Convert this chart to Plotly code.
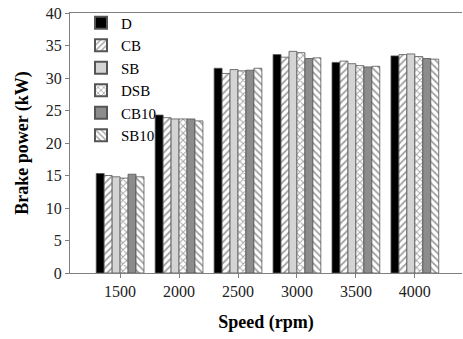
import plotly.graph_objects as go

speeds = ["1500", "2000", "2500", "3000", "3500", "4000"]
D    = [15.3, 24.3, 31.5, 33.6, 32.4, 33.4]
CB   = [15.0, 23.9, 30.7, 33.2, 32.6, 33.6]
SB   = [14.8, 23.7, 31.3, 34.1, 32.2, 33.7]
DSB  = [14.6, 23.7, 31.1, 33.9, 31.9, 33.3]
CB10 = [15.2, 23.7, 31.2, 33.0, 31.7, 33.0]
SB10 = [14.8, 23.4, 31.5, 33.1, 31.8, 32.9]

series = [
    ("D", D, "black", ""),
    ("CB", CB, "white", "/"),
    ("SB", SB, "#d4d4d4", ""),
    ("DSB", DSB, "white", "x"),
    ("CB10", CB10, "#8c8c8c", ""),
    ("SB10", SB10, "white", "\\"),
]

fig = go.Figure()
for name, vals, color, shape in series:
    marker = dict(color=color, line=dict(color="#555555", width=0.8))
    if shape:
        marker["pattern"] = dict(shape=shape, fgcolor="#444444", bgcolor="white",
                                 size=5, solidity=0.35, fillmode="overlay")
    fig.add_trace(go.Bar(name=name, x=speeds, y=vals, marker=marker))

serif = "Liberation Serif"
fig.update_layout(
    width=463, height=339,
    margin=dict(l=70, r=1, t=13, b=66),
    paper_bgcolor="white", plot_bgcolor="white",
    barmode="group", bargap=0.19, bargroupgap=0,
    font=dict(family=serif, size=16, color="black"),
    showlegend=True,
    legend=dict(x=0.028, y=1.025, xanchor="left", yanchor="top",
                bgcolor="rgba(0,0,0,0)", font=dict(family=serif, size=15, color="black"),
                tracegroupgap=0, itemsizing="constant"),
    xaxis=dict(
        title=dict(text="<b>Speed (rpm)</b>", font=dict(family=serif, size=18), standoff=16),
        tickfont=dict(family=serif, size=16, color="#222222"),
        showline=True, linecolor="#808080", linewidth=1, mirror=True,
        ticks="outside", ticklen=4, tickcolor="#808080",
        range=[-0.85, 5.8], showgrid=False,
    ),
    yaxis=dict(
        title=dict(text="<b>Brake power (kW)</b>", font=dict(family=serif, size=18), standoff=12),
        tickfont=dict(family=serif, size=16, color="#222222"),
        showline=True, linecolor="#808080", linewidth=1,
        ticks="outside", ticklen=4, tickcolor="#808080",
        range=[0, 40], dtick=5, showgrid=False, zeroline=False,
    ),
)

fig.write_html("out.html")
